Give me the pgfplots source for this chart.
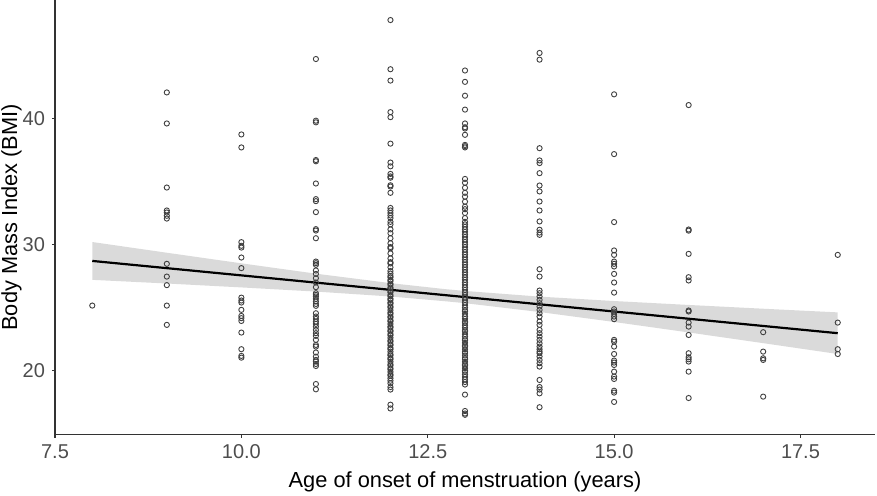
\documentclass[border=0pt]{standalone}
\usepackage{pgfplots}
\pgfplotsset{compat=1.18}
\usepackage{fontspec}
\setmainfont{Liberation Sans}
\definecolor{tickgray}{HTML}{4D4D4D}
\definecolor{axgray}{HTML}{333333}
\begin{document}
\begin{tikzpicture}
\begin{axis}[
  at={(0,0)}, anchor=south west,
  scale only axis, width=410pt, height=217.35pt,
  xmin=7.5, xmax=18.5, ymin=14.92, ymax=49.39,
  axis x line*=bottom, axis y line*=left,
  axis line style={axgray, line width=0.55pt, -},
  tick align=outside, major tick length=1.5pt,
  tick style={axgray, line width=0.55pt},
  xtick={7.5,10,12.5,15,17.5}, ytick={20,30,40},
  x tick label style={/pgf/number format/.cd, fixed, fixed zerofill, precision=1},
  /pgf/number format/assume math mode=true,
  ticklabel style={font=\fontsize{10}{12}\selectfont, text=tickgray},
  xlabel={Age of onset of menstruation (years)},
  ylabel={Body Mass Index (BMI)},
  label style={font=\fontsize{10.9}{13}\selectfont},
  xlabel style={at={(axis description cs:0.5,-0.1203)}, anchor=base},
  ylabel style={at={(axis description cs:-0.05305,0.5)}, anchor=center},
  clip=false,
]
\addplot[only marks, mark=o, mark size=1.3pt, mark options={draw=black!75, line width=0.45pt}] table {
x y
8 25.16
9 42.06
9 39.6
9 34.52
9 32.7
9 32.54
9 32.28
9 32.06
9 28.47
9 27.46
9 26.78
9 25.16
9 23.63
10 38.73
10 37.70
10 30.19
10 29.90
10 29.76
10 28.97
10 28.13
10 25.79
10 25.56
10 25.40
10 24.82
10 24.34
10 24.16
10 23.94
10 23.02
10 21.70
10 21.17
10 21.03
11 44.71
11 39.82
11 39.69
11 36.70
11 36.60
11 34.84
11 33.60
11 33.44
11 32.57
11 31.22
11 31.11
11 30.50
11 28.65
11 28.52
11 28.39
11 27.94
11 27.67
11 27.33
11 26.99
11 26.62
11 26.14
11 26.01
11 25.88
11 25.69
11 25.48
11 25.29
11 25.14
11 24.55
11 24.29
11 24.10
11 23.89
11 23.71
11 23.49
11 23.23
11 22.97
11 22.76
11 22.44
11 22.04
11 21.91
11 21.44
11 21.11
11 20.85
11 20.72
11 20.53
11 20.37
11 18.94
11 18.52
12 47.8
12 43.9
12 43.0
12 40.5
12 40.1
12 38.0
12 36.5
12 36.2
12 35.6
12 35.4
12 35.3
12 34.7
12 34.6
12 34.1
12 32.9
12 32.7
12 32.5
12 32.3
12 32.1
12 31.8
12 31.6
12 31.2
12 30.9
12 30.5
12 30.1
12 29.8
12 29.7
12 29.3
12 28.9
12 28.6
12 28.5
12 28.2
12 27.9
12 27.7
12 27.5
12 27.4
12 27.2
12 27.1
12 26.9
12 26.8
12 26.6
12 26.5
12 26.3
12 26.2
12 26.0
12 25.9
12 25.7
12 25.6
12 25.4
12 25.3
12 25.1
12 25.0
12 24.8
12 24.6
12 24.5
12 24.3
12 24.2
12 24.0
12 23.9
12 23.7
12 23.5
12 23.4
12 23.2
12 23.1
12 22.9
12 22.8
12 22.6
12 22.4
12 22.3
12 22.1
12 22.0
12 21.8
12 21.7
12 21.5
12 21.3
12 21.2
12 21.0
12 20.9
12 20.7
12 20.5
12 20.4
12 20.2
12 20.1
12 19.9
12 19.7
12 19.6
12 19.4
12 19.2
12 19.0
12 18.7
12 18.5
12 17.3
12 17.0
13 43.8
13 42.9
13 41.8
13 40.7
13 39.6
13 39.3
13 39.2
13 38.7
13 37.9
13 37.8
13 37.7
13 35.2
13 34.9
13 34.5
13 34.1
13 33.8
13 33.4
13 33.0
13 32.8
13 32.5
13 32.1
13 31.8
13 31.6
13 31.4
13 31.2
13 31.0
13 30.8
13 30.6
13 30.4
13 30.2
13 30.0
13 29.8
13 29.6
13 29.4
13 29.2
13 29.0
13 28.8
13 28.6
13 28.4
13 28.2
13 28.0
13 27.8
13 27.6
13 27.4
13 27.2
13 27.0
13 26.8
13 26.6
13 26.4
13 26.2
13 26.0
13 25.8
13 25.6
13 25.4
13 25.2
13 25.0
13 24.8
13 24.7
13 24.5
13 24.3
13 24.1
13 23.9
13 23.8
13 23.6
13 23.4
13 23.2
13 23.1
13 22.9
13 22.7
13 22.5
13 22.4
13 22.2
13 22.0
13 21.9
13 21.7
13 21.5
13 21.4
13 21.2
13 21.0
13 20.9
13 20.7
13 20.5
13 20.4
13 20.2
13 20.0
13 19.9
13 19.7
13 19.5
13 19.3
13 19.1
13 18.9
13 18.1
13 16.8
13 16.6
13 16.5
14 45.19
14 44.66
14 37.64
14 36.67
14 36.46
14 35.66
14 34.68
14 34.21
14 33.41
14 32.70
14 31.83
14 31.17
14 30.95
14 30.77
14 28.04
14 27.46
14 26.35
14 26.14
14 25.88
14 25.61
14 25.35
14 25.08
14 24.82
14 24.55
14 24.29
14 23.89
14 23.63
14 23.23
14 22.97
14 22.70
14 22.44
14 22.17
14 21.91
14 21.70
14 21.51
14 21.38
14 21.12
14 20.85
14 20.59
14 20.32
14 19.26
14 18.7
14 18.5
14 18.2
14 17.1
15 41.91
15 37.17
15 31.78
15 29.53
15 29.18
15 28.65
15 28.47
15 28.26
15 27.67
15 26.99
15 26.19
15 24.87
15 24.69
15 24.50
15 24.29
15 24.08
15 22.44
15 22.30
15 21.91
15 21.32
15 20.80
15 20.64
15 20.45
15 19.92
15 19.53
15 19.34
15 18.41
15 18.26
15 17.52
16 41.06
16 31.19
16 31.10
16 29.26
16 27.41
16 27.15
16 24.77
16 24.69
16 23.81
16 23.49
16 22.83
16 21.38
16 21.06
16 20.90
16 20.72
16 19.92
16 17.83
17 23.05
17 21.51
17 20.98
17 20.85
17 17.94
18 29.18
18 23.81
18 21.70
18 21.32
};
\addplot[fill=black!40, fill opacity=0.36, draw=none] coordinates {
(8,30.20) (9,29.35) (10,28.51) (11,27.69) (12,26.94) (12.74,26.46) (13,26.32)
(14,25.87) (15,25.52) (16,25.21) (17,24.91) (18,24.62)
(18,21.32) (17,22.18) (16,23.03) (15,23.86) (14,24.65) (13,25.35) (12.74,25.50)
(12,25.88) (11,26.27) (10,26.60) (9,26.91) (8,27.20)
} -- cycle;
\addplot[black, line width=1.1pt] coordinates {(8,28.70) (18,22.97)};
\end{axis}
\pgfresetboundingbox
\path[use as bounding box] (-27.5pt,-30.15pt) rectangle (411pt,217.35pt);
\end{tikzpicture}
\end{document}
